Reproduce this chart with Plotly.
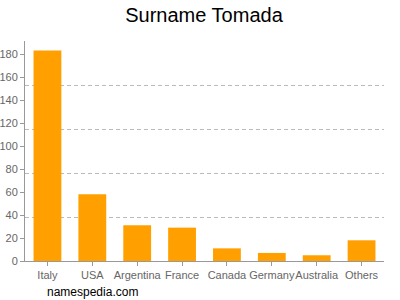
import plotly.graph_objects as go

categories = ["Italy", "USA", "Argentina", "France", "Canada", "Germany", "Australia", "Others"]
values = [183, 58, 31, 29, 11, 7, 5, 18]
tick_vals = [0, 20, 40, 60, 80, 100, 120, 140, 160, 180]

ymax = 191.3
grey = "#999999"

fig = go.Figure()
fig.add_trace(go.Bar(x=categories, y=values, marker=dict(color="#FFA000", line=dict(width=0)),
                     width=0.62, showlegend=False, hoverinfo="skip"))
# invisible trace to activate secondary grid axis
fig.add_trace(go.Scatter(x=[categories[0]], y=[0], yaxis="y2", mode="markers",
                         marker=dict(opacity=0), showlegend=False, hoverinfo="skip"))

fig.update_layout(
    width=400, height=300,
    margin=dict(l=25, r=16, t=41, b=39),
    paper_bgcolor="white", plot_bgcolor="white",
    font=dict(family="Liberation Sans, Arial, sans-serif", size=11, color="#666666"),
    title=dict(text="Surname Tomada", x=0.51, xanchor="center", y=0.95, yanchor="middle",
               font=dict(size=20, color="#000000")),
    xaxis=dict(range=[-0.5, 7.5], showline=True, linecolor=grey, linewidth=1, automargin=False,
               ticks="outside", ticklen=4, tickcolor=grey, showgrid=False, tickangle=0,
               tickfont=dict(size=11, color="#666666")),
    yaxis=dict(range=[0, ymax], tickvals=tick_vals, showline=True, linecolor=grey, linewidth=1,
               automargin=False, ticklabelstandoff=0,
               ticks="outside", ticklen=4, tickcolor=grey, showgrid=False, zeroline=False,
               tickfont=dict(size=11, color="#666666")),
    yaxis2=dict(range=[0, 1], overlaying="y", side="right", dtick=0.2, showgrid=True,
                automargin=False,
                gridcolor="#bbbbbb", griddash="4px,3px", gridwidth=1, showticklabels=False,
                zeroline=False, showline=False, ticks=""),
    bargap=0.38,
)
fig.add_annotation(text="namespedia.com", xref="paper", yref="paper", x=20/359, y=-31/220,
                   xanchor="left", yanchor="middle", showarrow=False,
                   font=dict(size=12, color="#000000"))
fig.write_html("out.html")
